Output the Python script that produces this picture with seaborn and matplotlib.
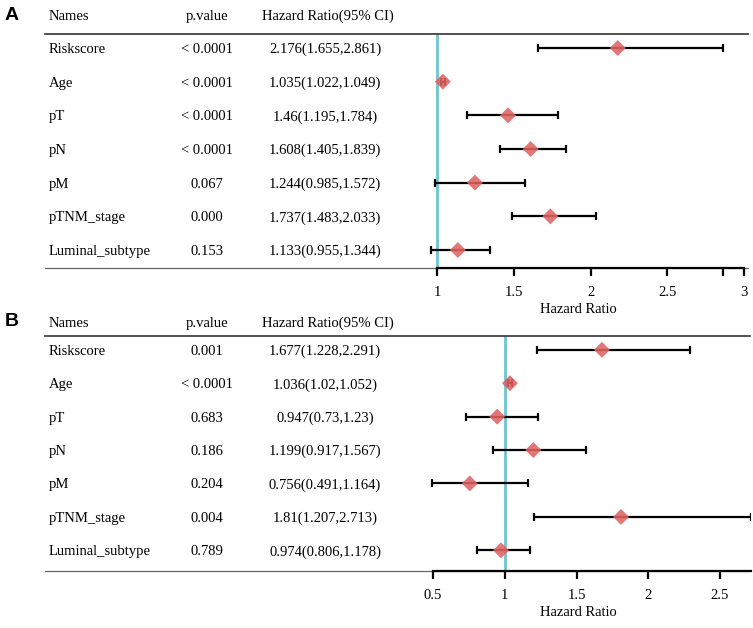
import numpy as np
import pandas as pd
import matplotlib
matplotlib.use("Agg")
import matplotlib.pyplot as plt
import matplotlib.transforms as mtransforms
import seaborn as sns

# table values
names = ["Riskscore", "Age", "pT", "pN", "pM", "pTNM_stage", "Luminal_subtype"]

pval_a = ["< 0.0001", "< 0.0001", "< 0.0001", "< 0.0001", "0.067", "0.000", "0.153"]
hr_a = [2.176, 1.035, 1.46, 1.608, 1.244, 1.737, 1.133]
lo_a = [1.655, 1.022, 1.195, 1.405, 0.985, 1.483, 0.955]
hi_a = [2.861, 1.049, 1.784, 1.839, 1.572, 2.033, 1.344]
ticks_a = [1, 1.5, 2, 2.5, 2.861, 3]
ticklabels_a = ["1", "1.5", "2", "2.5", "", "3"]

pval_b = ["0.001", "< 0.0001", "0.683", "0.186", "0.204", "0.004", "0.789"]
hr_b = [1.677, 1.036, 0.947, 1.199, 0.756, 1.81, 0.974]
lo_b = [1.228, 1.02, 0.73, 0.917, 0.491, 1.207, 0.806]
hi_b = [2.291, 1.052, 1.23, 1.567, 1.164, 2.713, 1.178]
ticks_b = [0.5, 1, 1.5, 2, 2.5]
ticklabels_b = ["0.5", "1", "1.5", "2", "2.5"]

sns.set_theme(style="white")
plt.rcParams["font.family"] = ["Liberation Serif", "DejaVu Serif"]
plt.rcParams["text.color"] = "black"
plt.rcParams["xtick.color"] = "black"
plt.rcParams["axes.labelcolor"] = "black"

W, H = 753, 628
fig = plt.figure(figsize=(W / 100, H / 100), dpi=100)

FS = 10.5
DIAMOND = "#E06363"
TEAL = "#6EC5CF"


def px_axes(left, top, right, bottom):
    return fig.add_axes([left / W, 1 - bottom / H, (right - left) / W, (bottom - top) / H])


def draw_panel(letter, ax, pvals, hr, lo, hi, xlim, ylim, ticks, ticklabels,
               axis_bounds, header_y):
    df = pd.DataFrame({"name": names, "p": pvals, "hr": hr, "lo": lo, "hi": hi,
                       "row": np.arange(len(names))})
    df["label"] = [f"{h}({l},{u})" for h, l, u in zip(hr, lo, hi)]

    ax.set_xlim(*xlim)
    ax.set_ylim(*ylim)

    # reference line at HR = 1
    ax.axvline(1, color=TEAL, lw=2, zorder=1)

    # confidence intervals + point estimates
    ax.errorbar(df["hr"], df["row"],
                xerr=[df["hr"] - df["lo"], df["hi"] - df["hr"]],
                fmt="none", ecolor="black", elinewidth=1.6, capsize=3.2,
                capthick=1.6, zorder=2)
    sns.scatterplot(data=df, x="hr", y="row", marker="D", s=66, color=DIAMOND,
                    alpha=0.88, edgecolor="none", ax=ax, zorder=3, legend=False)

    # table text
    tr = mtransforms.blended_transform_factory(fig.transFigure, ax.transData)
    for _, r in df.iterrows():
        ax.text(49 / W, r["row"], r["name"], transform=tr, ha="left",
                va="center_baseline", fontsize=FS)
        ax.text(207 / W, r["row"], r["p"], transform=tr, ha="center",
                va="center_baseline", fontsize=FS)
        ax.text(325 / W, r["row"], r["label"], transform=tr, ha="center",
                va="center_baseline", fontsize=FS)

    hy = 1 - header_y / H
    fig.text(49 / W, hy, "Names", ha="left", va="center_baseline", fontsize=FS)
    fig.text(207 / W, hy, "p.value", ha="center", va="center_baseline", fontsize=FS)
    fig.text(328 / W, hy, "Hazard Ratio(95% CI)", ha="center", va="center_baseline", fontsize=FS)
    fig.text(12 / W, hy, letter, ha="center", va="center", fontsize=14,
             fontweight="bold", family=["Liberation Sans", "DejaVu Sans"])

    # frame: header rule on top, thin rule at bottom, axis only over the data range
    for s in ["left", "right"]:
        ax.spines[s].set_visible(False)
    ax.spines["top"].set_color("#333333")
    ax.spines["top"].set_linewidth(1.2)
    ax.plot([0, 1], [0, 0], transform=ax.transAxes, color="#666666", lw=0.9,
            clip_on=False, zorder=0)
    ax.spines["bottom"].set_color("black")
    ax.spines["bottom"].set_linewidth(1.6)
    ax.spines["bottom"].set_bounds(*axis_bounds)
    ax.spines["bottom"].set_zorder(4)

    ax.set_yticks([])
    ax.set_xticks(ticks)
    ax.set_xticklabels(ticklabels, fontsize=FS)
    ax.tick_params(axis="x", direction="out", length=6, width=1.6, color="black",
                   labelcolor="black", pad=7, bottom=True)
    ax.set_xlabel("Hazard Ratio", fontsize=FS)
    ax.xaxis.set_label_coords((578 - 45) / (ax.get_position().width * W), -0.15)
    ax.set_ylabel("")
    ax.grid(False)


ax_a = px_axes(45, 34, 748, 268)
draw_panel("A", ax_a, pval_a, hr_a, lo_a, hi_a,
           xlim=(-1.561, 3.026), ylim=(6.535, -0.416),
           ticks=ticks_a, ticklabels=ticklabels_a, axis_bounds=(1, 3), header_y=15)

ax_b = px_axes(45, 336, 750, 571)
draw_panel("B", ax_b, pval_b, hr_b, lo_b, hi_b,
           xlim=(-2.204, 2.709), ylim=(6.62, -0.414),
           ticks=ticks_b, ticklabels=ticklabels_b, axis_bounds=(0.5, 2.713), header_y=322)

fig.savefig("out.png", dpi=100)
